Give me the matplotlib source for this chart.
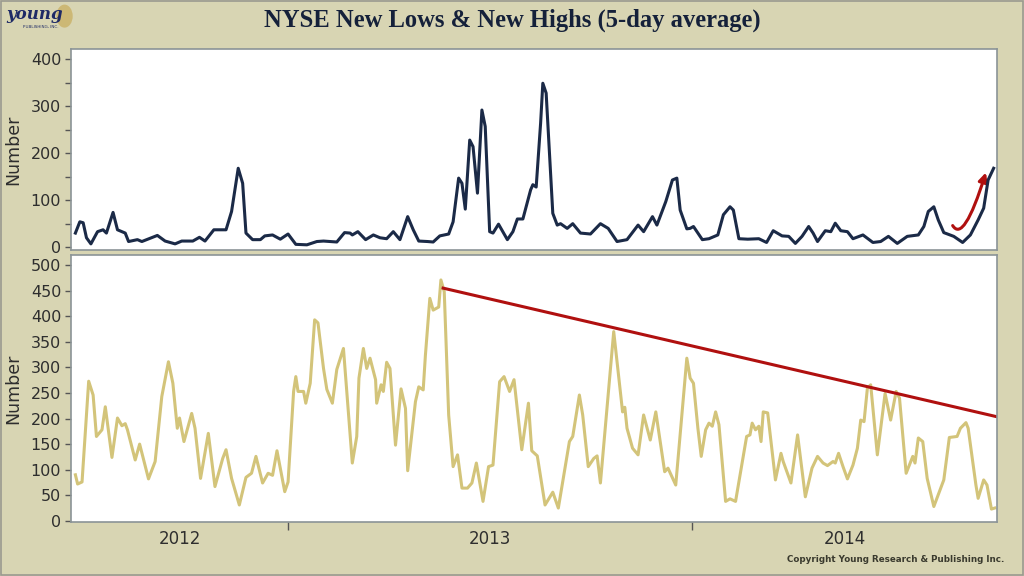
"""NYSE new lows & new highs (5-day average) - two stacked panels"""

import matplotlib
matplotlib.use("Agg")
import matplotlib.pyplot as plt
import matplotlib.dates as mdates
import numpy as np
import pandas as pd
from matplotlib.patches import FancyArrowPatch, Rectangle, Ellipse
from matplotlib.path import Path

# new lows (top panel)
lows_dates = [
    "2012-06-23", "2012-06-27", "2012-06-30", "2012-07-03", "2012-07-07", "2012-07-13",
    "2012-07-18", "2012-07-21", "2012-07-27", "2012-07-31", "2012-08-07", "2012-08-10",
    "2012-08-18", "2012-08-22", "2012-09-05", "2012-09-12", "2012-09-21", "2012-09-27",
    "2012-10-07", "2012-10-13", "2012-10-18", "2012-10-26", "2012-11-06", "2012-11-11",
    "2012-11-17", "2012-11-21", "2012-11-24", "2012-11-30", "2012-12-07", "2012-12-11",
    "2012-12-18", "2012-12-25", "2013-01-01", "2013-01-08", "2013-01-18", "2013-01-27",
    "2013-02-02", "2013-02-14", "2013-02-21", "2013-02-26", "2013-02-28", "2013-03-05",
    "2013-03-12", "2013-03-19", "2013-03-25", "2013-03-31", "2013-04-06", "2013-04-12",
    "2013-04-19", "2013-04-24", "2013-04-29", "2013-05-07", "2013-05-12", "2013-05-18",
    "2013-05-26", "2013-05-30", "2013-06-04", "2013-06-07", "2013-06-10", "2013-06-14",
    "2013-06-17", "2013-06-21", "2013-06-25", "2013-06-28", "2013-07-02", "2013-07-05",
    "2013-07-10", "2013-07-18", "2013-07-23", "2013-07-27", "2013-08-01", "2013-08-08",
    "2013-08-10", "2013-08-13", "2013-08-17", "2013-08-19", "2013-08-22", "2013-08-28",
    "2013-09-01", "2013-09-04", "2013-09-10", "2013-09-15", "2013-09-22", "2013-10-01",
    "2013-10-10", "2013-10-17", "2013-10-25", "2013-11-03", "2013-11-13", "2013-11-18",
    "2013-11-26", "2013-11-30", "2013-12-08", "2013-12-14", "2013-12-18", "2013-12-21",
    "2013-12-27", "2013-12-30", "2014-01-02", "2014-01-10", "2014-01-16", "2014-01-24",
    "2014-01-29", "2014-02-04", "2014-02-07", "2014-02-12", "2014-02-20", "2014-03-02",
    "2014-03-09", "2014-03-15", "2014-03-23", "2014-03-29", "2014-04-04", "2014-04-10",
    "2014-04-16", "2014-04-20", "2014-04-24", "2014-05-01", "2014-05-06", "2014-05-10",
    "2014-05-15", "2014-05-21", "2014-05-26", "2014-06-04", "2014-06-13", "2014-06-20",
    "2014-06-27", "2014-07-05", "2014-07-14", "2014-07-24", "2014-07-29", "2014-08-02",
    "2014-08-07", "2014-08-11", "2014-08-16", "2014-08-25", "2014-09-02", "2014-09-09",
    "2014-09-16", "2014-09-21", "2014-09-25", "2014-09-30",
]
lows_values = [
    30, 54, 52, 20, 7, 33, 37, 30, 74, 37, 30, 12,
    16, 12, 25, 13, 7, 13, 13, 21, 13, 37, 37, 76,
    168, 136, 30, 16, 16, 24, 26, 17, 28, 6, 5, 12,
    13, 11, 31, 30, 26, 33, 16, 26, 20, 18, 33, 16,
    65, 37, 13, 12, 11, 24, 28, 54, 147, 136, 81, 228,
    214, 115, 292, 257, 33, 30, 49, 16, 33, 60, 60, 122,
    133, 128, 264, 349, 328, 72, 47, 50, 40, 50, 30, 28,
    50, 40, 12, 16, 47, 33, 65, 47, 97, 143, 147, 79,
    39, 40, 44, 16, 18, 26, 69, 86, 79, 18, 17, 18,
    10, 35, 24, 23, 8, 23, 44, 30, 12, 35, 33, 51,
    35, 33, 18, 26, 10, 12, 23, 8, 23, 26, 44, 76,
    86, 58, 31, 23, 10, 26, 58, 83, 143, 168,
]

# new highs (bottom panel)
highs_dates = [
    "2012-06-23", "2012-06-25", "2012-06-29", "2012-07-05", "2012-07-09", "2012-07-12",
    "2012-07-17", "2012-07-20", "2012-07-26", "2012-07-31", "2012-08-04", "2012-08-07",
    "2012-08-09", "2012-08-16", "2012-08-20", "2012-08-28", "2012-09-03", "2012-09-09",
    "2012-09-15", "2012-09-19", "2012-09-23", "2012-09-25", "2012-09-29", "2012-10-06",
    "2012-10-09", "2012-10-14", "2012-10-21", "2012-10-27", "2012-11-03", "2012-11-06",
    "2012-11-11", "2012-11-18", "2012-11-24", "2012-11-29", "2012-12-03", "2012-12-09",
    "2012-12-14", "2012-12-18", "2012-12-22", "2012-12-29", "2013-01-01", "2013-01-06",
    "2013-01-08", "2013-01-10", "2013-01-15", "2013-01-17", "2013-01-21", "2013-01-25",
    "2013-01-28", "2013-02-02", "2013-02-05", "2013-02-10", "2013-02-14", "2013-02-20",
    "2013-02-28", "2013-03-04", "2013-03-06", "2013-03-10", "2013-03-13", "2013-03-16",
    "2013-03-21", "2013-03-22", "2013-03-26", "2013-03-28", "2013-03-31", "2013-04-03",
    "2013-04-08", "2013-04-13", "2013-04-17", "2013-04-19", "2013-04-26", "2013-04-29",
    "2013-05-03", "2013-05-05", "2013-05-09", "2013-05-12", "2013-05-17", "2013-05-19",
    "2013-05-22", "2013-05-26", "2013-05-30", "2013-06-03", "2013-06-07", "2013-06-12",
    "2013-06-16", "2013-06-20", "2013-06-26", "2013-07-01", "2013-07-05", "2013-07-11",
    "2013-07-15", "2013-07-20", "2013-07-24", "2013-07-31", "2013-08-06", "2013-08-09",
    "2013-08-14", "2013-08-21", "2013-08-28", "2013-09-02", "2013-09-12", "2013-09-15",
    "2013-09-21", "2013-09-24", "2013-09-29", "2013-10-04", "2013-10-07", "2013-10-10",
    "2013-10-22", "2013-10-30", "2013-11-01", "2013-11-03", "2013-11-08", "2013-11-13",
    "2013-11-18", "2013-11-24", "2013-11-29", "2013-12-07", "2013-12-10", "2013-12-17",
    "2013-12-27", "2013-12-30", "2014-01-02", "2014-01-06", "2014-01-09", "2014-01-13",
    "2014-01-16", "2014-01-19", "2014-01-22", "2014-01-25", "2014-01-31", "2014-02-04",
    "2014-02-09", "2014-02-19", "2014-02-22", "2014-02-24", "2014-02-27", "2014-03-02",
    "2014-03-04", "2014-03-06", "2014-03-10", "2014-03-17", "2014-03-22", "2014-03-24",
    "2014-03-31", "2014-04-06", "2014-04-13", "2014-04-19", "2014-04-24", "2014-04-29",
    "2014-05-03", "2014-05-08", "2014-05-10", "2014-05-13", "2014-05-17", "2014-05-21",
    "2014-05-26", "2014-05-30", "2014-06-02", "2014-06-05", "2014-06-08", "2014-06-11",
    "2014-06-17", "2014-06-24", "2014-06-29", "2014-07-04", "2014-07-07", "2014-07-13",
    "2014-07-19", "2014-07-21", "2014-07-24", "2014-07-28", "2014-08-01", "2014-08-07",
    "2014-08-16", "2014-08-21", "2014-08-28", "2014-08-31", "2014-09-05", "2014-09-07",
    "2014-09-14", "2014-09-16", "2014-09-21", "2014-09-24", "2014-09-28", "2014-10-01",
]
highs_values = [
    90, 72, 76, 273, 246, 165, 178, 223, 124, 201, 186, 190,
    178, 119, 150, 82, 116, 243, 311, 269, 181, 201, 155, 210,
    181, 83, 171, 67, 122, 139, 83, 31, 85, 93, 126, 74,
    93, 89, 137, 57, 76, 253, 282, 253, 253, 230, 269, 393,
    387, 298, 257, 230, 296, 337, 113, 165, 279, 337, 298, 318,
    276, 230, 266, 253, 310, 298, 148, 258, 220, 98, 233, 262,
    256, 324, 435, 412, 418, 471, 448, 207, 106, 129, 64, 64,
    74, 113, 38, 106, 109, 272, 282, 253, 276, 139, 230, 137,
    127, 31, 56, 25, 155, 165, 246, 207, 106, 122, 127, 74,
    370, 213, 222, 181, 142, 129, 207, 158, 213, 96, 103, 70,
    318, 279, 269, 181, 126, 178, 191, 185, 213, 188, 38, 43,
    38, 165, 168, 191, 178, 185, 155, 213, 211, 80, 132, 116,
    74, 168, 47, 103, 126, 113, 108, 116, 113, 132, 106, 82,
    109, 142, 197, 194, 259, 266, 129, 249, 197, 253, 240, 93,
    126, 113, 162, 155, 83, 28, 80, 163, 165, 181, 192, 181,
    70, 44, 80, 70, 23, 25,
]

# red trend line on the highs and rising arrow on the lows
trend_dates = ["2013-05-21", "2014-10-02"]
trend_values = [455, 204]
arrow_dates = ["2014-08-24", "2014-09-03", "2014-09-23"]
arrow_values = [46, 8, 159]

years = [2012, 2013, 2014]
x_start, x_end = pd.Timestamp("2012-06-19"), pd.Timestamp("2014-10-03")

BG = "#d8d5b3"
NAVY = "#1b2a47"
GOLD = "#d3c47a"
RED = "#b0100f"
SPINE = "#8b9497"
TXT = "#2e2e2e"

fig = plt.figure(figsize=(10.24, 5.76), dpi=100, facecolor=BG)
fig.patches.append(Rectangle((0.001, 0.001), 0.998, 0.997, transform=fig.transFigure,
                             fill=False, edgecolor="#9a9a90", lw=1.2))

ax1 = fig.add_axes([0.0693, 0.566, 0.9043, 0.349])
ax2 = fig.add_axes([0.0693, 0.094, 0.9043, 0.4635])

ax1.plot(pd.to_datetime(lows_dates), lows_values, color=NAVY, lw=2.2)
ax2.plot(pd.to_datetime(highs_dates), highs_values, color=GOLD, lw=2.2)
ax2.plot(pd.to_datetime(trend_dates), trend_values, color=RED, lw=2.2)

# J shaped arrow
ad = mdates.date2num(pd.to_datetime(arrow_dates))
arrow_path = Path(list(zip(ad, arrow_values)), [Path.MOVETO, Path.CURVE3, Path.CURVE3])
ax1.add_patch(FancyArrowPatch(path=arrow_path, arrowstyle="-|>", mutation_scale=13,
                              color=RED, lw=2.2, transform=ax1.transData))

for ax in (ax1, ax2):
    ax.set_facecolor("white")
    ax.set_xlim(x_start, x_end)
    for s in ax.spines.values():
        s.set_color(SPINE)
        s.set_linewidth(1.2)
    ax.tick_params(axis="y", which="both", direction="out", length=4, width=1,
                   color="#555555", labelsize=11.5, labelcolor=TXT, pad=3)
    ax.set_ylabel("Number", fontsize=12.5, color=TXT, labelpad=6)

ax1.set_ylim(-6, 422)
ax1.set_yticks(np.arange(0, 401, 100))
ax1.set_yticks(np.arange(50, 400, 100), minor=True)
ax1.tick_params(axis="x", which="both", bottom=False, labelbottom=False)

ax2.set_ylim(-2, 520)
ax2.set_yticks(np.arange(0, 501, 50))

# year boundaries as ticks, year names centred in the visible part of each year
bounds = [pd.Timestamp(f"{y}-01-01") for y in years[1:]]
ax2.set_xticks(bounds)
ax2.set_xticklabels([])
mids = []
for y in years:
    a = max(x_start, pd.Timestamp(f"{y}-01-01"))
    b = min(x_end, pd.Timestamp(f"{y + 1}-01-01"))
    mids.append(a + (b - a) / 2)
ax2.set_xticks(mids, minor=True)
ax2.set_xticklabels([str(y) for y in years], minor=True)
ax2.tick_params(axis="x", which="major", direction="out", length=6, width=1, color="#555555")
ax2.tick_params(axis="x", which="minor", length=0, labelsize=12, labelcolor=TXT, pad=6)

fig.text(0.5, 0.965, "NYSE New Lows & New Highs (5-day average)", ha="center", va="center",
         fontsize=17.7, fontweight="bold", family="Liberation Serif", color="#15213a")
fig.text(0.981, 0.028, "Copyright Young Research & Publishing Inc.", ha="right", va="center",
         fontsize=6.3, fontweight="bold", color="#3a3a2e")

# logo
fig.patches.append(Ellipse((0.063, 0.972), 0.016, 0.04, transform=fig.transFigure,
                           facecolor="#cbb36a", edgecolor="none", alpha=0.85))
fig.text(0.006, 0.974, "young", fontsize=12, fontstyle="italic", fontweight="bold",
         family="DejaVu Serif", color="#1e2a66", va="center")
fig.text(0.022, 0.953, "PUBLISHING, INC.", fontsize=3, color="#1e2a66", va="center")

fig.savefig("out.png", dpi=100, facecolor=BG)
